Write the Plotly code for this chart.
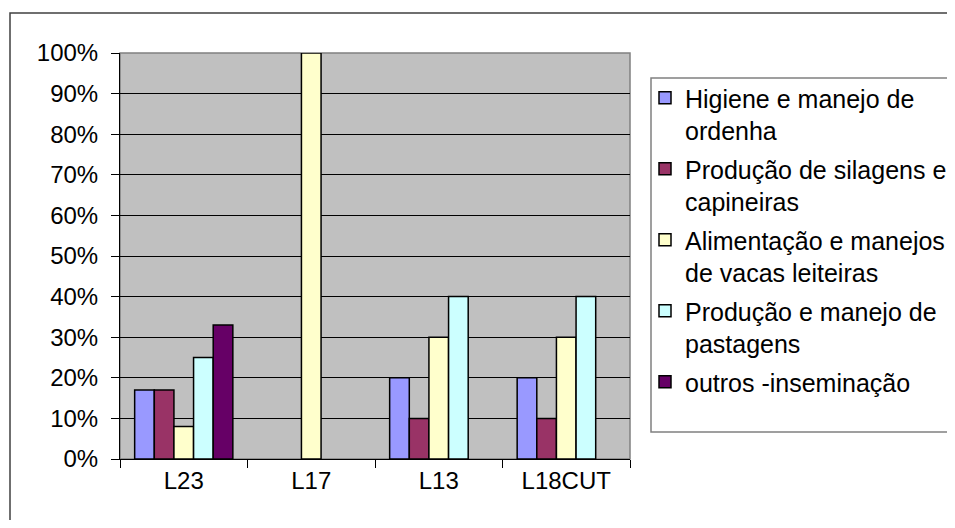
import plotly.graph_objects as go

categories = ["L23", "L17", "L13", "L18CUT"]
series_names = [
    "Higiene e manejo de<br>ordenha",
    "Produção de silagens e<br>capineiras",
    "Alimentação e manejos<br>de vacas leiteiras",
    "Produção e manejo de<br>pastagens",
    "outros -inseminação",
]
higiene = [0.17, None, 0.20, 0.20]
silagens = [0.17, None, 0.10, 0.10]
alimentacao = [0.08, 1.00, 0.30, 0.30]
pastagens = [0.25, None, 0.40, 0.40]
outros = [0.33, None, None, None]
series_values = [higiene, silagens, alimentacao, pastagens, outros]
colors = ["#9999FF", "#993366", "#FFFFCC", "#CCFFFF", "#660066"]

OFF = 8  # page body margin
W, H = 955 - 2 * OFF, 528 - 2 * OFF
L, R, T, B = 120 - OFF, 630 - OFF, 53 - OFF, 459 - OFF  # plot area pixels
pw, ph = R - L, B - T


def px(x):
    # x given in screenshot pixels
    return (x - OFF - L) / pw


def py(y):
    return (B - (y - OFF)) / ph


FONT = "Liberation Sans, Arial, sans-serif"

fig = go.Figure()
for i, (name, vals, col) in enumerate(zip(series_names, series_values, colors)):
    fig.add_trace(go.Bar(
        x=categories, y=vals, name=name, legendgroup=f"g{i}",
        marker=dict(color=col, line=dict(color="black", width=1.5)),
    ))

fig.update_layout(
    width=W, height=H,
    margin=dict(l=L, r=W - R, t=T, b=H - B, pad=0, autoexpand=False),
    paper_bgcolor="white",
    plot_bgcolor="#C0C0C0",
    barmode="group",
    bargap=0.23,
    bargroupgap=0,
    font=dict(family=FONT, size=24, color="black"),
    showlegend=True,
    legend=dict(
        x=px(645), y=py(75), xanchor="left", yanchor="top",
        bgcolor="rgba(0,0,0,0)", borderwidth=0,
        font=dict(family=FONT, size=25, color="black"),
        itemwidth=30, tracegroupgap=3, valign="top",
        itemclick=False, itemdoubleclick=False,
    ),
    xaxis=dict(
        type="category",
        showline=True, linecolor="black", linewidth=1,
        ticks="outside", ticklen=8, tickcolor="black", tickwidth=1,
        tickson="boundaries",
        showgrid=False, zeroline=False,
        tickfont=dict(family=FONT, size=24, color="black"),
    ),
    yaxis=dict(
        range=[0, 1], dtick=0.1, tick0=0, tickformat=".0%",
        showline=True, linecolor="black", linewidth=1,
        ticks="outside", ticklen=8, tickcolor="black", tickwidth=1,
        showgrid=True, gridcolor="black", gridwidth=1,
        zeroline=False,
        ticklabelstandoff=8,
        tickfont=dict(family=FONT, size=24, color="black"),
    ),
    shapes=[
        # outer chart border
        dict(type="rect", xref="paper", yref="paper",
             x0=px(10), x1=px(990), y0=py(560), y1=py(13),
             line=dict(color="#404040", width=1.5), fillcolor="rgba(0,0,0,0)",
             layer="below"),
        # plot area border
        dict(type="rect", xref="paper", yref="paper",
             x0=0, x1=1, y0=0, y1=1,
             line=dict(color="#808080", width=1.5), fillcolor="rgba(0,0,0,0)",
             layer="below"),
        # legend border
        dict(type="rect", xref="paper", yref="paper",
             x0=px(651), x1=px(990), y0=py(432), y1=py(78),
             line=dict(color="#808080", width=1.5), fillcolor="rgba(0,0,0,0)",
             layer="above"),
    ],
)

fig.write_html("out.html")
